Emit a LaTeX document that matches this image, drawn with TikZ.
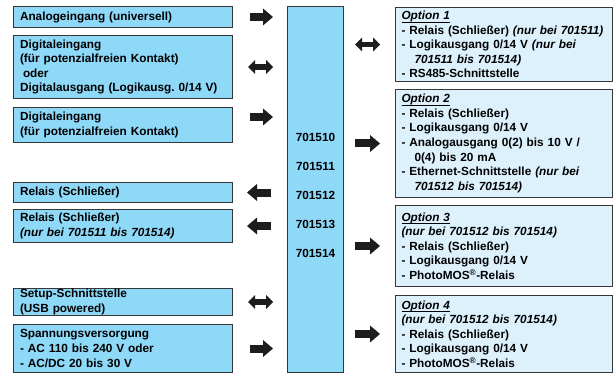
\documentclass[tikz,border=0pt]{standalone}
\usepackage{fontspec}
\setmainfont{Liberation Sans}
\usepackage{tikz}
\usetikzlibrary{arrows.meta, positioning}
\frenchspacing
\definecolor{inblue}{RGB}{142,216,248}
\definecolor{optblue}{RGB}{221,241,252}
\definecolor{boxline}{RGB}{55,55,55}
\definecolor{arrowblack}{RGB}{30,28,28}
\tikzstyle{inbox} = [rectangle, draw=boxline, line width=1.2pt, fill=inblue, text width=206pt,
    inner xsep=6.4pt, inner ysep=0pt, align=left, font=\fontsize{11.8}{14.6}\selectfont\bfseries]
\tikzstyle{optbox} = [rectangle, draw=boxline, line width=1.2pt, fill=optblue, text width=205pt,
    inner xsep=5.9pt, inner ysep=0pt, align=left, font=\fontsize{11.8}{14.6}\selectfont\bfseries]
\tikzstyle{devbox} = [rectangle, draw=boxline, line width=1.2pt, fill=inblue, minimum width=55.8pt,
    minimum height=365.8pt, inner sep=0pt]
\tikzstyle{idtext} = [align=center, inner sep=0pt, font=\fontsize{11.8}{29}\selectfont\bfseries]
\tikzstyle{fatarrow} = [line width=8pt, draw=arrowblack,
    -{Triangle[width=17pt,length=10pt,line width=0pt]}]
\tikzstyle{duoarrow} = [line width=5.5pt, draw=arrowblack,
    {Triangle[width=14pt,length=7pt,line width=0pt]}-{Triangle[width=14pt,length=7pt,line width=0pt]}]
\newcommand{\opt}[1]{\setbox0\hbox{\itshape #1}\rlap{\copy0}\rule[-3.2pt]{\wd0}{0.8pt}}
\newcommand{\cont}{\hspace*{13pt}}

\begin{document}
\begin{tikzpicture}[x=1pt, y=1pt]
  \useasboundingbox (0,0) rectangle (615,-374);

  % inputs and outputs, left column
  \node (ana)   [inbox, minimum height=20.8pt, anchor=north west] at (13,-6) {Analogeingang (universell)};
  \node (dio)   [inbox, minimum height=62.8pt, below=7pt of ana] {Digitaleingang\\(für potenzialfreien Kontakt)\\\hspace*{3pt}oder\\Digitalausgang (Logikausg. 0/14 V)};
  \node (din)   [inbox, minimum height=34.8pt, below=8pt of dio] {Digitaleingang\\(für potenzialfreien Kontakt)};
  \node (rel1)  [inbox, minimum height=19.8pt, below=39pt of din] {Relais (Schließer)};
  \node (rel2)  [inbox, minimum height=32.8pt, below=6pt of rel1] {Relais (Schließer)\\{\itshape(nur bei 701511 bis 701514)}};
  \node (setup) [inbox, minimum height=26.8pt, below=45pt of rel2] {Setup-Schnittstelle\\(USB powered)};
  \node (pwr)   [inbox, minimum height=47.8pt, below=8pt of setup] {Spannungsversorgung\\- AC 110 bis 240 V oder\\- AC/DC 20 bis 30 V};

  % device
  \node (dev) [devbox, anchor=north west] at (287,-6) {};
  \node (ids) [idtext] at (315.5,-195) {701510\\701511\\701512\\701513\\701514};

  % options, right column
  \node (opt1) [optbox, minimum height=73.8pt, anchor=north west] at (395,-7) {\opt{Option 1}\\- Relais (Schließer) {\itshape(nur bei 701511)}\\- Logikausgang 0/14 V {\itshape(nur bei}\\\cont{\itshape701511 bis 701514)}\\- RS485-Schnittstelle};
  \node (opt2) [optbox, minimum height=107.8pt, below=7pt of opt1] {\opt{Option 2}\\- Relais (Schließer)\\- Logikausgang 0/14 V\\- Analogausgang 0(2) bis 10 V /\\\cont 0(4) bis 20 mA\\- Ethernet-Schnittstelle {\itshape(nur bei}\\\cont{\itshape701512 bis 701514)}};
  \node (opt3) [optbox, minimum height=80.8pt, below=7pt of opt2] {\opt{Option 3}\\{\itshape(nur bei 701512 bis 701514)}\\- Relais (Schließer)\\- Logikausgang 0/14 V\\- PhotoMOS\textsuperscript{®}-Relais};
  \node (opt4) [optbox, minimum height=76.8pt, below=8pt of opt3] {\opt{Option 4}\\{\itshape(nur bei 701512 bis 701514)}\\- Relais (Schließer)\\- Logikausgang 0/14 V\\- PhotoMOS\textsuperscript{®}-Relais};

  % arrows left of device
  \draw[fatarrow, shorten <=17pt, shorten >=14pt] (ana.east) -- (dev.west |- ana.east);
  \draw[duoarrow, shorten <=15pt, shorten >=14pt] (dio.east) -- (dev.west |- dio.east);
  \draw[fatarrow, shorten <=17pt, shorten >=14pt] ([yshift=8pt]din.east) -- ([yshift=8pt]dev.west |- din.east);
  \draw[fatarrow, shorten <=16pt, shorten >=14pt] (dev.west |- rel1.east) -- (rel1.east);
  \draw[fatarrow, shorten <=16pt, shorten >=14pt] (dev.west |- rel2.east) -- (rel2.east);
  \draw[duoarrow, shorten <=15pt, shorten >=14pt] (setup.east) -- (dev.west |- setup.east);
  \draw[fatarrow, shorten <=17pt, shorten >=14pt] (pwr.east) -- (dev.west |- pwr.east);

  % arrows right of device
  \draw[duoarrow, shorten <=11pt, shorten >=15pt] (dev.east |- opt1.west) -- (opt1.west);
  \draw[fatarrow, shorten <=11pt, shorten >=15pt] (dev.east |- opt2.west) -- (opt2.west);
  \draw[fatarrow, shorten <=11pt, shorten >=15pt] (dev.east |- opt3.west) -- (opt3.west);
  \draw[fatarrow, shorten <=11pt, shorten >=15pt] (dev.east |- opt4.west) -- (opt4.west);
\end{tikzpicture}
\end{document}
